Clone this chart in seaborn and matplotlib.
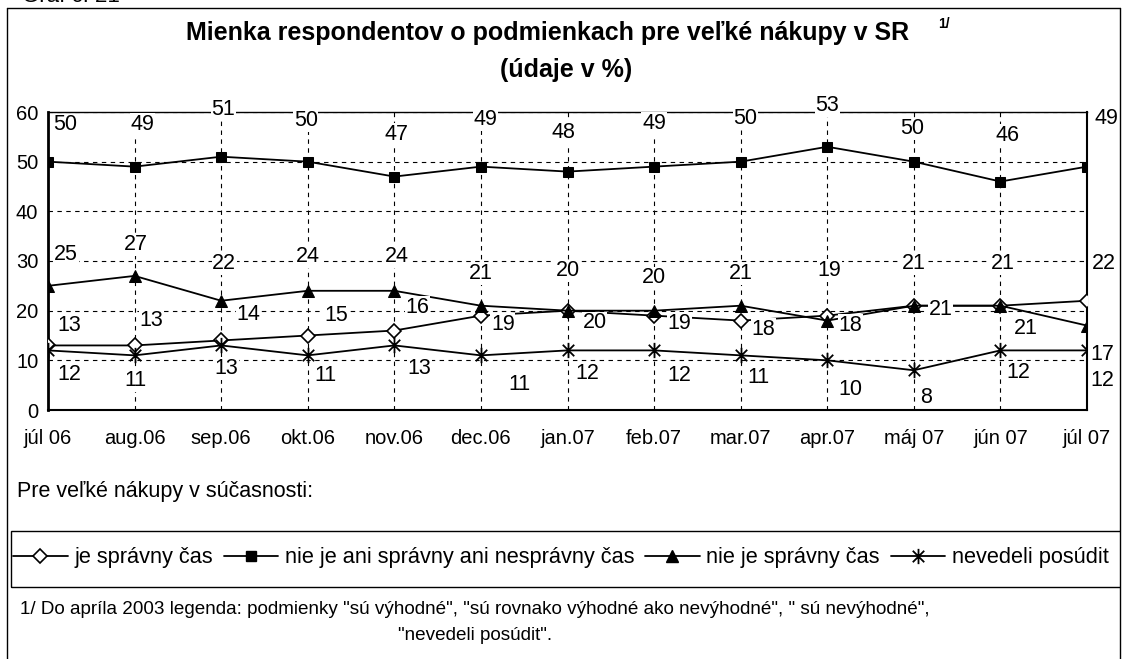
import numpy as np
import pandas as pd
import seaborn as sns
import matplotlib.pyplot as plt
from matplotlib.lines import Line2D
from matplotlib.patches import Rectangle
from matplotlib.path import Path

# data
months = ["júl 06", "aug.06", "sep.06", "okt.06", "nov.06", "dec.06", "jan.07",
          "feb.07", "mar.07", "apr.07", "máj 07", "jún 07", "júl 07"]
je_spravny = [13, 13, 14, 15, 16, 19, 20, 19, 18, 19, 21, 21, 22]
ani_ani = [50, 49, 51, 50, 47, 49, 48, 49, 50, 53, 50, 46, 49]
nie_je_spravny = [25, 27, 22, 24, 24, 21, 20, 20, 21, 18, 21, 21, 17]
nevedeli = [12, 11, 13, 11, 13, 11, 12, 12, 11, 10, 8, 12, 12]

names = ["je správny čas", "nie je ani správny ani nesprávny čas",
         "nie je správny čas", "nevedeli posúdit"]

# label offsets in pixels (dx, dy), hand placed like in the original
off_diamond = [(21, 20), (17, 25), (27, 26), (29, 20), (23, 23), (22, -9), (27, -12),
               (25, -8), (23, -9), (2, 45), (27, -4), (25, -23), (17, 37)]
off_square = [(17, 37), (8, 42), (2, 47), (-2, 41), (2, 42), (5, 47), (-4, 39),
              (0, 43), (5, 43), (0, 41), (-2, 33), (7, 46), (19, 48)]
off_triangle = [(18, 31), (1, 31), (3, 37), (0, 34), (3, 34), (0, 32), (0, 40),
                (0, 33), (0, 32), (23, -5), (0, 42), (2, 42), (15, -29)]
off_star = [(21, -24), (1, -25), (5, -23), (18, -20), (25, -23), (39, -29), (20, -23),
            (25, -25), (18, -22), (23, -29), (12, -27), (18, -22), (15, -30)]

W, H = 1123, 659
fx = lambda px: px / W
fy = lambda py: 1 - py / H

sns.set_theme(style="white")
plt.rcParams["font.family"] = ["Liberation Sans", "DejaVu Sans"]
plt.rcParams["text.color"] = "black"
plt.rcParams["xtick.color"] = "black"
plt.rcParams["ytick.color"] = "black"

star = Path([(-0.75, -0.75), (0.75, 0.75), (-0.75, 0.75), (0.75, -0.75), (0, -1), (0, 1)],
            [Path.MOVETO, Path.LINETO, Path.MOVETO, Path.LINETO, Path.MOVETO, Path.LINETO])

styles = [
    dict(marker="D", markersize=7, markerfacecolor="white", markeredgecolor="black", markeredgewidth=1.2),
    dict(marker="s", markersize=7.5, markerfacecolor="black", markeredgecolor="black"),
    dict(marker="^", markersize=9, markerfacecolor="black", markeredgecolor="black"),
    dict(marker=star, markersize=11, markerfacecolor="none", markeredgecolor="black", markeredgewidth=1.3),
]
series = [je_spravny, ani_ani, nie_je_spravny, nevedeli]
offsets = [off_diamond, off_square, off_triangle, off_star]

fig = plt.figure(figsize=(W / 100, H / 100), dpi=100)
ax = fig.add_axes([fx(48), fy(410), fx(1087) - fx(48), fy(112) - fy(410)])

x = np.arange(len(months))
for vals, st in zip(series, styles):
    sns.lineplot(x=x, y=vals, ax=ax, color="black", linewidth=1.3, zorder=3, **st)

for vals, offs in zip(series, offsets):
    for xi, v, (dx, dy) in zip(x, vals, offs):
        ax.annotate(str(v), (xi, v), xytext=(dx, dy), textcoords="offset pixels",
                    ha="center", va="center", fontsize=15.5, color="black", zorder=6,
                    annotation_clip=False,
                    bbox=dict(boxstyle="square,pad=0.03", fc="white", ec="none"))

ax.set_xlim(0, 12)
ax.set_ylim(0, 60)
ax.set_xticks(x)
ax.set_xticklabels(months)
ax.set_yticks(range(0, 61, 10))
ax.tick_params(axis="both", direction="out", length=4, width=1, color="black",
               labelsize=14.5, labelcolor="black")
ax.tick_params(axis="x", pad=10)
ax.tick_params(axis="y", pad=3)
ax.grid(True, color="black", linestyle=(0, (4, 4)), linewidth=0.8)
ax.set_xlabel("")
ax.set_ylabel("")
for side, lw in [("left", 2), ("bottom", 1.5), ("top", 1), ("right", 1.5)]:
    ax.spines[side].set_visible(True)
    ax.spines[side].set_color("black")
    ax.spines[side].set_linewidth(lw)

# chart number, cut off by the top edge as in the source
fig.text(fx(22), fy(2), "Graf č. 21", fontsize=16, va="baseline", ha="left")

fig.text(fx(548), fy(33), "Mienka respondentov o podmienkach pre veľké nákupy v SR", fontsize=18,
         fontweight="bold", ha="center", va="center")
fig.text(fx(938), fy(24), "1/", fontsize=10, fontweight="bold", ha="left", va="center")
fig.text(fx(566), fy(70), "(údaje v %)", fontsize=18, fontweight="bold", ha="center", va="center")

fig.text(fx(17), fy(491), "Pre veľké nákupy v súčasnosti:", fontsize=15.5, ha="left", va="center")

# legend box
fig.add_artist(Rectangle((fx(11), fy(587)), fx(1130) - fx(11), fy(531) - fy(587), fill=False,
                         ec="black", lw=1, transform=fig.transFigure))
handles = [Line2D([], [], color="black", linewidth=1.3, **st) for st in styles]
fig.legend(handles, names, loc="center left", bbox_to_anchor=(fx(13), fy(558)), ncol=4,
           frameon=False, fontsize=15.7, handlelength=2.5, handletextpad=0.3,
           columnspacing=0.5, borderpad=0, borderaxespad=0)

fig.text(fx(475), fy(609), '1/ Do apríla 2003 legenda: podmienky "sú výhodné", "sú rovnako výhodné ako nevýhodné", " sú nevýhodné",',
         fontsize=13.6, ha="center", va="center")
fig.text(fx(475), fy(635), '"nevedeli posúdit".', fontsize=13.6, ha="center", va="center")

# outer frame, drawn last so it sits over the legend text like in the source
for xs, ys in [([7, 7], [8, 659]), ([7, 1120], [8, 8]), ([1120, 1120], [8, 659])]:
    fig.add_artist(Line2D([fx(v) for v in xs], [fy(v) for v in ys], color="black", lw=1,
                          transform=fig.transFigure, zorder=10))
fig.add_artist(Rectangle((fx(1121), 0), 1, 1, fc="white", ec="none",
                         transform=fig.transFigure, zorder=9))

fig.savefig("out.png", dpi=100)
